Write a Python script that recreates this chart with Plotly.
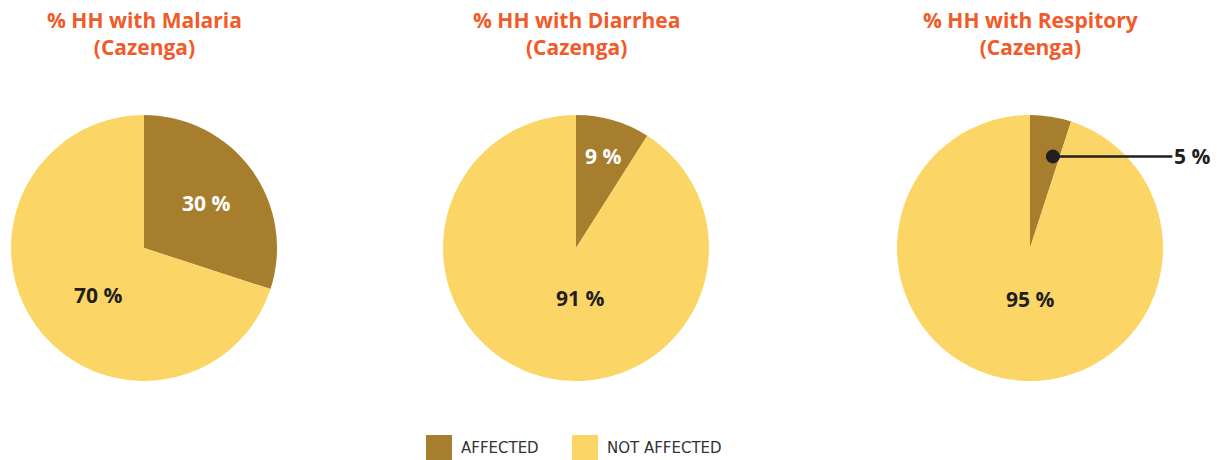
import math
import plotly.graph_objects as go

# ---- data ----
titles = ["% HH with Malaria<br>(Cazenga)",
          "% HH with Diarrhea<br>(Cazenga)",
          "% HH with Respitory<br>(Cazenga)"]
labels = ["AFFECTED", "NOT AFFECTED"]
malaria = [30, 70]
diarrhea = [9, 91]
respiratory = [5, 95]
series = [malaria, diarrhea, respiratory]

# ---- style ----
W, H = 1217, 460
C_AFF = "#A67E2E"
C_NOT = "#FBD666"
C_TITLE = "#F15A29"
C_DARK = "#231F20"
FONT = "Open Sans"

centers_x = [144, 576, 1030]   # px
center_y = 248
R = 133

fig = go.Figure()

def px(x):
    return x / W

def py(y):
    return 1 - y / H

for i, vals in enumerate(series):
    cx = centers_x[i]
    fig.add_trace(go.Pie(
        labels=labels, values=vals, sort=False, direction="clockwise",
        rotation=0, marker=dict(colors=[C_AFF, C_NOT], line=dict(width=0)),
        textinfo="none", hoverinfo="label+percent", showlegend=False,
        domain=dict(x=[px(cx - R), px(cx + R)], y=[py(center_y + R), py(center_y - R)]),
    ))
    fig.add_annotation(text=titles[i], x=px(cx), y=py(33), xref="paper", yref="paper",
                       showarrow=False, xanchor="center", yanchor="middle",
                       font=dict(family=FONT, size=21, color=C_TITLE, weight="bold"))

def label_pos(cx, vals, idx, frac_angle, frac_r):
    total = sum(vals)
    start = sum(vals[:idx]) / total * 360
    span = vals[idx] / total * 360
    ang = math.radians(start + span * frac_angle)
    r = R * frac_r
    return cx + r * math.sin(ang), center_y - r * math.cos(ang)

def pct(v):
    return f"{v} %"

LBL = dict(family=FONT, size=21, weight="bold")

def add_label(text, x, y, col):
    fig.add_annotation(text=text, x=px(x), y=py(y), xref="paper", yref="paper",
                       showarrow=False, xanchor="center", yanchor="middle",
                       font=dict(LBL, color=col))

# pie 1 labels
for idx, (fa, fr, col) in enumerate([(0.5, 0.58, "white"), (0.462, 0.49, C_DARK)]):
    x, y = label_pos(centers_x[0], malaria, idx, fa, fr)
    add_label(pct(malaria[idx]), x, y, col)
# pie 2 labels
for idx, (fa, fr, col) in enumerate([(0.5, 0.72, "white"), (0.437, 0.38, C_DARK)]):
    x, y = label_pos(centers_x[1], diarrhea, idx, fa, fr)
    add_label(pct(diarrhea[idx]), x, y, col)
# pie 3 labels
x, y = label_pos(centers_x[2], respiratory, 1, 0.475, 0.38)
add_label(pct(respiratory[1]), x, y, C_DARK)
x, y = label_pos(centers_x[2], respiratory, 0, 0.78, 0.71)
fig.add_annotation(text=pct(respiratory[0]), x=px(x), y=py(y), xref="paper", yref="paper",
                   showarrow=True, arrowhead=6, arrowsize=1.4, arrowwidth=2.5, arrowcolor=C_DARK,
                   ax=139, ay=0, standoff=0, startstandoff=0, xanchor="center",
                   font=dict(LBL, color=C_DARK))

# legend (swatches + text)
legend_x = [426, 572]
for j, lab in enumerate(labels):
    x0 = legend_x[j]
    fig.add_shape(type="rect", xref="paper", yref="paper",
                  x0=px(x0), x1=px(x0 + 26), y0=py(461), y1=py(435),
                  fillcolor=[C_AFF, C_NOT][j], line=dict(width=0))
    fig.add_annotation(text=lab, x=px(x0 + 33), y=py(448), xref="paper", yref="paper",
                       showarrow=False, xanchor="left", yanchor="middle",
                       font=dict(family="DejaVu Sans", size=15, color="#333333"))

fig.update_layout(width=W, height=H, margin=dict(l=0, r=0, t=0, b=0),
                  paper_bgcolor="white", plot_bgcolor="white", showlegend=False,
                  font=dict(family=FONT))

fig.write_html("out.html", config={"displayModeBar": False},
               post_script="document.body.style.margin='0';")
